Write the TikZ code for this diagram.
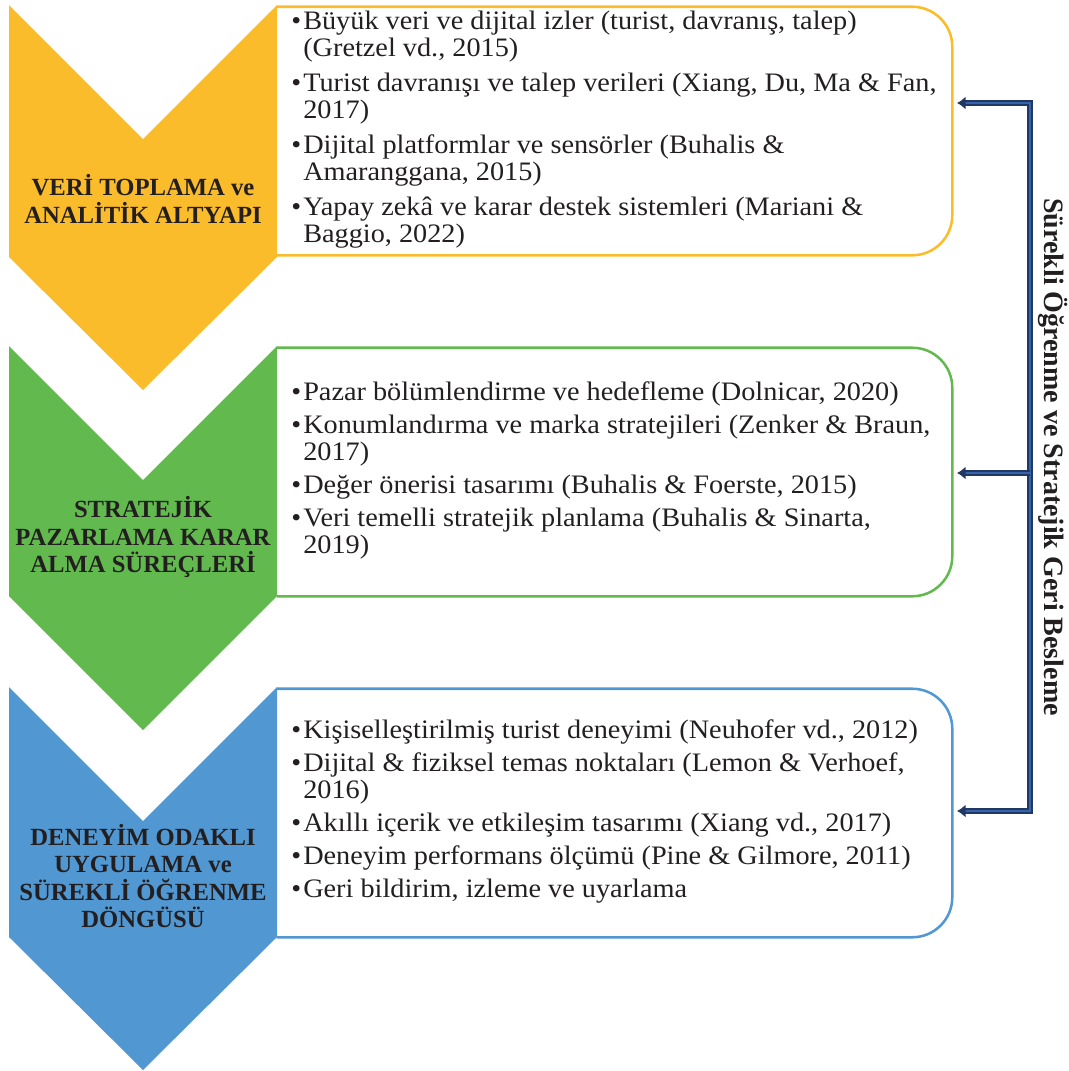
\documentclass[tikz,border=0pt]{standalone}
\usepackage{fontspec}
\setmainfont{Liberation Serif}
\newfontfamily\bodyfont{Liberation Serif}[FakeStretch=1.06]
\usetikzlibrary{arrows.meta}
\definecolor{cy}{HTML}{FBBC2B}
\definecolor{cg}{HTML}{62BA4F}
\definecolor{cb}{HTML}{5197D1}
\definecolor{navy}{HTML}{1F3864}
\definecolor{midb}{HTML}{3A62A8}
\definecolor{txt}{HTML}{231F20}
\newcommand\bul{\makebox[9pt][l]{•}}
\begin{document}
\begin{tikzpicture}[x=0.75pt,y=-0.75pt,
  boxframe/.style={line width=1.9pt, rounded corners=30pt},
  boxnode/.style={minimum width=506.25pt, minimum height=186pt, inner sep=0pt, draw=none},
  hd/.style={font=\bfseries\fontsize{18.5}{20.5}\selectfont, align=center, text=txt, inner sep=0pt},
  items/.style={anchor=west, inner sep=0pt, font=\bodyfont\fontsize{20}{20.25}\selectfont, text=txt},
  rot/.style={rotate=-90, font=\bfseries\fontsize{21}{22}\selectfont, text=txt, inner sep=0pt},
  fb/.style={draw=navy, line width=1.4pt, double=midb, double distance=1.6pt},
  tip/.style={-{Latex[length=6.5pt,width=10pt]}}
]
\useasboundingbox (0,0) rectangle (1069,1071);

% boxes
\node[boxnode] (b1) at (614.5,131) {};
\node[boxnode] (b2) at (614.5,472) {};
\node[boxnode] (b3) at (614.5,813) {};
\draw[boxframe, draw=cy] (b1.north west) -- (b1.north east) -- (b1.south east) -- (b1.south west);
\draw[boxframe, draw=cg] (b2.north west) -- (b2.north east) -- (b2.south east) -- (b2.south west);
\draw[boxframe, draw=cb] (b3.north west) -- (b3.north east) -- (b3.south east) -- (b3.south west);

% chevrons
\fill[cy] (9,5) -- (143,139) -- (277,5) -- (277,257) -- (143,390) -- (9,257) -- cycle;
\fill[cg] (9,346) -- (143,480) -- (277,346) -- (277,596) -- (143,730) -- (9,596) -- cycle;
\fill[cb] (9,687) -- (143,821) -- (277,687) -- (277,937) -- (143,1070) -- (9,937) -- cycle;

% headings
\node[hd] (h1) at (143,199) {VERİ TOPLAMA ve\\ANALİTİK ALTYAPI};
\node[hd] (h2) at (143,537) {STRATEJİK\\PAZARLAMA KARAR\\ALMA SÜREÇLERİ};
\node[hd] (h3) at (143,876) {DENEYİM ODAKLI\\UYGULAMA ve\\SÜREKLİ ÖĞRENME\\DÖNGÜSÜ};

% items
\node[items] (t1) at (291,131) {\begin{tabular}{@{}l@{}l@{}}
\bul & Büyük veri ve dijital izler (turist, davranış, talep)\\
 & (Gretzel vd., 2015)\\[6pt]
\bul & Turist davranışı ve talep verileri (Xiang, Du, Ma \& Fan,\\
 & 2017)\\[6pt]
\bul & Dijital platformlar ve sensörler (Buhalis \&\\
 & Amaranggana, 2015)\\[6pt]
\bul & Yapay zekâ ve karar destek sistemleri (Mariani \&\\
 & Baggio, 2022)
\end{tabular}};
\node[items] (t2) at (291,472) {\begin{tabular}{@{}l@{}l@{}}
\bul & Pazar bölümlendirme ve hedefleme (Dolnicar, 2020)\\[4.5pt]
\bul & Konumlandırma ve marka stratejileri (Zenker \& Braun,\\
 & 2017)\\[4.5pt]
\bul & Değer önerisi tasarımı (Buhalis \& Foerste, 2015)\\[4.5pt]
\bul & Veri temelli stratejik planlama (Buhalis \& Sinarta,\\
 & 2019)
\end{tabular}};
\node[items] (t3) at (291,813) {\begin{tabular}{@{}l@{}l@{}}
\bul & Kişiselleştirilmiş turist deneyimi (Neuhofer vd., 2012)\\[4.5pt]
\bul & Dijital \& fiziksel temas noktaları (Lemon \& Verhoef,\\
 & 2016)\\[4.5pt]
\bul & Akıllı içerik ve etkileşim tasarımı (Xiang vd., 2017)\\[4.5pt]
\bul & Deneyim performans ölçümü (Pine \& Gilmore, 2011)\\[4.5pt]
\bul & Geri bildirim, izleme ve uyarlama
\end{tabular}};

% feedback loop
\coordinate (c1) at (1030,103);
\coordinate (c2) at (1030,473);
\coordinate (c3) at (1030,811);
\coordinate (e1) at (957,103);
\coordinate (e2) at (957,473);
\coordinate (e3) at (957,811);
\draw[fb, {Latex[length=6.5pt,width=10pt]}-{Latex[length=6.5pt,width=10pt]}] (e1) -- (c1) -- (c3) -- (e3);
\draw[fb, tip] (c2) -- (e2);

\node[rot] (lab) at (1053,457) {Sürekli Öğrenme ve Stratejik Geri Besleme};
\end{tikzpicture}
\end{document}
